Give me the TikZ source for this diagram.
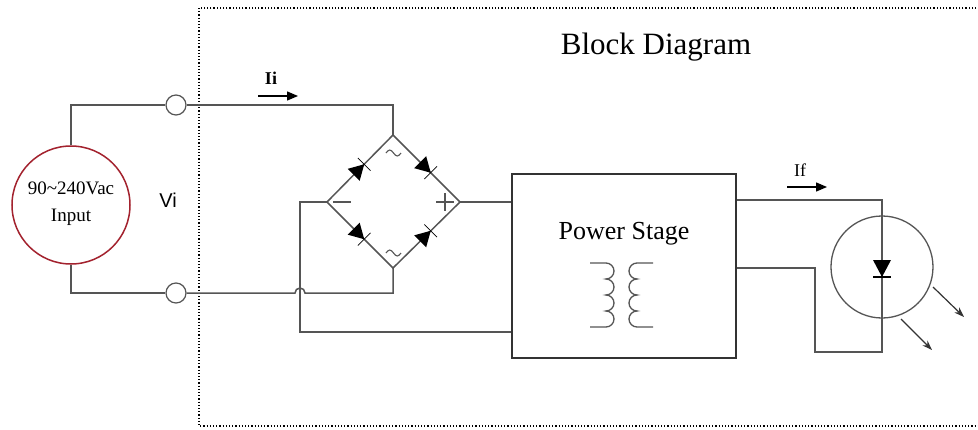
\documentclass[tikz,border=0pt]{standalone}
\usepackage{fontspec}
\setmainfont{Liberation Serif}
\newfontfamily\sansf{Liberation Sans}
\usetikzlibrary{arrows.meta,calc}
\definecolor{wire}{HTML}{555555}
\definecolor{boxc}{HTML}{333333}
\definecolor{srcred}{HTML}{A3222E}
\tikzset{
  wire/.style={draw=wire,line width=1.5pt},
  term/.style={circle,draw=wire,line width=1.2pt,minimum size=20pt,inner sep=0pt,fill=white},
  lbl/.style={inner sep=0pt,font=\fontsize{19}{22}\selectfont},
  cur/.style={line width=1.3pt,-{Triangle[length=11pt,width=9pt]}},
  ray/.style={draw=black!80,line width=1.2pt,-{Stealth[length=10pt,width=7pt]}},
  diodepic/.pic={
    \fill (-9,-8.5) -- (-9,8.5) -- (6,0) -- cycle;
    \draw[line width=0.7pt] (6,-9) -- (6,9);
  }
}
\begin{document}
\begin{tikzpicture}[x=1pt,y=-1pt]
\useasboundingbox (0,0) rectangle (978,429);
\fill[white] (0,0) rectangle (978,429);
\begin{scope}
\clip (0,0) rectangle (978,429);
\draw[line width=1.2pt,dash pattern=on 1.2pt off 2pt] (199,8) rectangle (1000,426);
\end{scope}

% title
\node[font=\fontsize{31}{33}\selectfont] (title) at (656,47) {Block Diagram};

% source
\node[circle,draw=srcred,line width=1.5pt,minimum size=118pt,inner sep=0pt] (src) at (71,205) {};
\node[lbl] (srcA) at (71,188) {90\textasciitilde240Vac};
\node[lbl] (srcB) at (71,217) {Input};
\node[term] (t1) at (176,105) {};
\node[term] (t2) at (176,293) {};
\draw[wire] (src.north) |- (t1.west);
\draw[wire] (src.south) |- (t2.west);
\node[inner sep=0pt,font=\sansf\fontsize{20}{22}\selectfont] (vi) at (168,200) {Vi};

% current Ii
\coordinate (ia) at (258,96);
\coordinate (ib) at (298,96);
\draw[cur] (ia) -- (ib);
\node[inner sep=0pt,font=\bfseries\fontsize{18}{20}\selectfont] (ii) at (271,78) {Ii};

% bridge
\coordinate (bT) at (393,135);
\coordinate (bL) at (327,202);
\coordinate (bR) at (460,202);
\coordinate (bB) at (393,268);
\draw[wire] (bT) -- (bR) -- (bB) -- (bL) -- cycle;
\pic[rotate=45] at ($(bL)!0.5!(bT)$) {diodepic};
\pic[rotate=-45] at ($(bT)!0.5!(bR)$) {diodepic};
\pic[rotate=-45] at ($(bL)!0.5!(bB)$) {diodepic};
\pic[rotate=45] at ($(bB)!0.5!(bR)$) {diodepic};
% signs
\draw[draw=wire,line width=1.1pt] (386,153) sin (389.75,150) cos (393.5,153) sin (397.25,156) cos (401,153);
\draw[draw=wire,line width=1.1pt] (386,253) sin (389.75,250) cos (393.5,253) sin (397.25,256) cos (401,253);
\draw[draw=wire,line width=1.2pt] (333,202) -- (351,202);
\draw[draw=wire,line width=1.2pt] (436,202) -- (454,202) (445,193) -- (445,211);

% power stage
\node[draw=boxc,line width=1.6pt,minimum width=224pt,minimum height=184pt,inner sep=0pt] (ps) at (624,266) {};
\node[font=\fontsize{26}{28}\selectfont] (pst) at (624,234) {Power Stage};

% transformer
\draw[wire,line width=1.3pt] (590,263) -- (606,263)
  arc (-90:90:8) arc (-90:90:8) arc (-90:90:8) arc (-90:90:8) -- (590,327);
\draw[wire,line width=1.3pt] (653,263) -- (637,263)
  arc (270:90:8) arc (270:90:8) arc (270:90:8) arc (270:90:8) -- (653,327);

% wiring
\draw[wire] (t1.east) -| (bT);
\draw[wire] (bR) -- (ps.west |- bR);
\coordinate (jt) at (300,202);
\coordinate (jb) at (300,332);
\draw[wire] (bL) -- (jt) -- (jb) -- (ps.west |- jb);
\draw[wire] (t2.east) -- (295,293) arc (180:360:5) -- (393,293) -- (bB);

% output
\coordinate (o1) at (882,200);
\coordinate (o2) at (882,352);
\coordinate (o3) at (815,352);
\coordinate (o4) at (815,268);
\node[circle,draw=wire,line width=1.3pt,minimum size=102pt,inner sep=0pt] (led) at (882,267) {};
\draw[wire] (ps.east |- o1) -- (o1) -- (o2) -- (o3) -- (o4) -- (ps.east |- o4);
\fill (873,260) -- (891,260) -- (882,277) -- cycle;
\draw[line width=1.2pt] (873,277) -- (891,277);
\coordinate (r1a) at (933,287);
\coordinate (r1b) at (964,317);
\coordinate (r2a) at (901,319);
\coordinate (r2b) at (932,350);
\draw[ray] (r1a) -- (r1b);
\draw[ray] (r2a) -- (r2b);

% current If
\coordinate (fa) at (787,187);
\coordinate (fb) at (827,187);
\draw[cur] (fa) -- (fb);
\node[inner sep=0pt,font=\fontsize{18}{20}\selectfont] (if) at (800,170) {If};
\end{tikzpicture}
\end{document}
